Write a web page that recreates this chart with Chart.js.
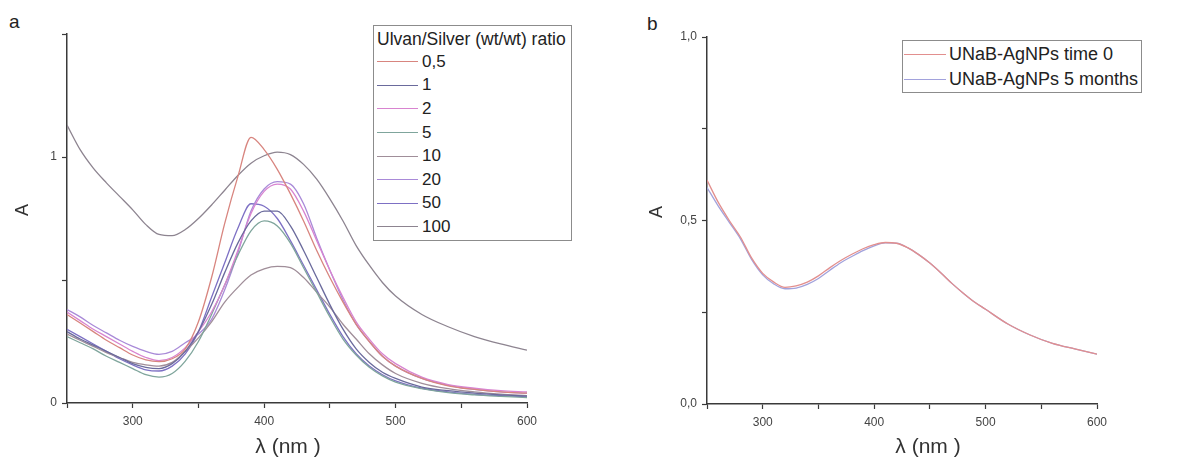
<!DOCTYPE html>
<html lang="en">
<head>
<meta charset="utf-8" />
<title>UV-Vis spectra of Ulvan/silver nanoparticles</title>
<script src="https://cdn.jsdelivr.net/npm/chart.js@4.4.1/dist/chart.umd.min.js"></script>
<style>
    html, body { margin: 0; padding: 0; background: #fff; }
    body { width: 1190px; height: 463px; position: relative; overflow: hidden;
           font-family: "Liberation Sans", Arial, sans-serif; color: #222; }
    canvas { position: absolute; top: 0; }
    #chartA { left: 0; }
    #chartB { left: 600px; }
    .panel-tag { position: absolute; font-size: 19px; line-height: 1; }
    .axis-title { position: absolute; color: #333; line-height: 1; white-space: nowrap;
                  transform: translate(-50%, -50%); }
    .axis-title.x { font-size: 21px; }
    .axis-title.y { font-size: 18px; transform: translate(-50%, -50%) rotate(-90deg); }
    .legend { position: absolute; background: #fff; border: 1.5px solid #8c8c8c; box-sizing: border-box; }
    .legend .head { font-size: 17.5px; line-height: 22px; white-space: nowrap; }
    .legend .row { display: flex; align-items: center; white-space: nowrap; }
    .legend .swatch { display: inline-block; height: 0; border-top: 1.5px solid; }
    #legendA .row { height: 23.6px; font-size: 17px; }
    #legendB .row { height: 25px; font-size: 18px; }
</style>
</head>
<body>
<div class="panel-tag" style="left:9px; top:12px;">a</div>
<div class="panel-tag" style="left:647px; top:14px;">b</div>
<canvas id="chartA" width="600" height="463"></canvas>
<canvas id="chartB" width="590" height="463"></canvas>
<div class="axis-title y" style="left:22px; top:210px;">A</div>
<div class="axis-title x" style="left:288px; top:445px;">λ (nm )</div>
<div class="axis-title y" style="left:656px; top:212px;">A</div>
<div class="axis-title x" style="left:928px; top:445px;">λ (nm )</div>
<div id="legendA" class="legend" style="left:373px; top:25px; width:199px; height:216px; padding:2px 0 0 3px;"></div>
<div id="legendB" class="legend" style="left:902px; top:40px; width:240px; height:53px; padding:1px 0 0 1px;"></div>

<script>
// wavelengths (nm) shared by every spectrum
const wavelengths = [250, 260, 270, 280, 290, 300, 310, 320, 330, 340, 350, 360, 370, 380, 390,
                     400, 410, 420, 430, 440, 450, 460, 470, 480, 490, 500, 520, 540, 560, 580, 600];

// panel a: absorbance for each Ulvan/Silver ratio
const ratioNames = ['0,5', '1', '2', '5', '10', '20', '50', '100'];
const ratio0_5 = [0.36, 0.325, 0.29, 0.255, 0.225, 0.195, 0.175, 0.168, 0.18, 0.22, 0.33, 0.51, 0.73, 0.92, 1.08,
                  1.03, 0.95, 0.85, 0.74, 0.62, 0.51, 0.41, 0.32, 0.25, 0.19, 0.15, 0.10, 0.07, 0.055, 0.045, 0.04];
const ratio1   = [0.29, 0.26, 0.235, 0.21, 0.185, 0.16, 0.145, 0.14, 0.16, 0.21, 0.29, 0.40, 0.53, 0.65, 0.74,
                  0.78, 0.78, 0.72, 0.62, 0.51, 0.40, 0.30, 0.22, 0.165, 0.125, 0.10, 0.065, 0.05, 0.04, 0.033, 0.028];
const ratio2   = [0.37, 0.335, 0.30, 0.27, 0.24, 0.21, 0.185, 0.172, 0.185, 0.225, 0.29, 0.37, 0.48, 0.62, 0.77,
                  0.86, 0.89, 0.87, 0.78, 0.66, 0.54, 0.43, 0.33, 0.26, 0.20, 0.16, 0.105, 0.075, 0.06, 0.05, 0.045];
const ratio5   = [0.27, 0.245, 0.22, 0.19, 0.165, 0.14, 0.115, 0.105, 0.12, 0.17, 0.25, 0.36, 0.48, 0.60, 0.70,
                  0.74, 0.72, 0.65, 0.55, 0.45, 0.35, 0.26, 0.195, 0.145, 0.11, 0.085, 0.058, 0.042, 0.033, 0.027, 0.022];
const ratio10  = [0.28, 0.255, 0.23, 0.205, 0.185, 0.165, 0.155, 0.15, 0.165, 0.21, 0.265, 0.33, 0.41, 0.47, 0.52,
                  0.545, 0.555, 0.55, 0.51, 0.45, 0.39, 0.32, 0.26, 0.20, 0.155, 0.12, 0.08, 0.058, 0.045, 0.036, 0.03];
const ratio20  = [0.38, 0.35, 0.315, 0.285, 0.255, 0.23, 0.21, 0.198, 0.21, 0.245, 0.28, 0.34, 0.46, 0.61, 0.78,
                  0.87, 0.90, 0.89, 0.81, 0.67, 0.54, 0.42, 0.32, 0.25, 0.19, 0.15, 0.10, 0.072, 0.055, 0.045, 0.04];
const ratio50  = [0.30, 0.27, 0.24, 0.21, 0.18, 0.155, 0.135, 0.13, 0.15, 0.20, 0.29, 0.43, 0.57, 0.71, 0.81,
                  0.80, 0.75, 0.66, 0.56, 0.46, 0.36, 0.27, 0.20, 0.15, 0.115, 0.09, 0.06, 0.045, 0.035, 0.03, 0.025];
const ratio100 = [1.13, 1.03, 0.955, 0.895, 0.84, 0.785, 0.725, 0.685, 0.68, 0.705, 0.75, 0.805, 0.865, 0.925, 0.975,
                  1.005, 1.02, 1.01, 0.97, 0.91, 0.83, 0.74, 0.64, 0.56, 0.49, 0.435, 0.36, 0.31, 0.27, 0.24, 0.215];
const ratioSeries = [ratio0_5, ratio1, ratio2, ratio5, ratio10, ratio20, ratio50, ratio100];

// panel b: stability of UNaB-AgNPs
const stabilityNames = ['UNaB-AgNPs time 0', 'UNaB-AgNPs 5 months'];
const time0   = [0.61, 0.55, 0.50, 0.455, 0.398, 0.356, 0.332, 0.318, 0.322, 0.332, 0.349, 0.371, 0.391, 0.408, 0.423,
                 0.434, 0.44, 0.438, 0.426, 0.407, 0.384, 0.357, 0.328, 0.302, 0.278, 0.258, 0.218, 0.188, 0.165, 0.15, 0.136];
const months5 = [0.59, 0.54, 0.495, 0.45, 0.394, 0.352, 0.327, 0.314, 0.316, 0.326, 0.342, 0.364, 0.385, 0.402, 0.418,
                 0.431, 0.439, 0.438, 0.426, 0.407, 0.384, 0.357, 0.328, 0.302, 0.278, 0.258, 0.218, 0.188, 0.165, 0.15, 0.136];
const stabilitySeries = [time0, months5];

// tick labels
const xTickValues = [300, 400, 500, 600];
const yTickValuesA = [0, 1];
const yTickTextA = ['0', '1'];
const yTickValuesB = [0, 0.5, 1];
const yTickTextB = ['0,0', '0,5', '1,0'];

// line colours
const ratioColors = ['#d8857f', '#6a6a9c', '#d884d0', '#7fa59c', '#a08e99', '#a98ad8', '#7d70c4', '#8d8490'];
const stabilityColors = ['#e28f8e', '#a2a2dc'];

Chart.defaults.font.family = '"Liberation Sans", Arial, sans-serif';

const axisColor = '#3a3a3a';

function toPoints(values) {
    return wavelengths.map((w, i) => ({ x: w, y: values[i] }));
}

function makeDatasets(names, series, colors) {
    return names.map((name, i) => ({
        label: name,
        data: toPoints(series[i]),
        borderColor: colors[i],
        borderWidth: 1.3,
        pointRadius: 0,
        fill: false,
        cubicInterpolationMode: 'monotone'
    }));
}

function wavelengthAxis(height) {
    return {
        type: 'linear', min: 250, max: 600,
        afterFit: s => { s.height = height; },
        border: { color: axisColor, width: 1.5 },
        grid: { drawOnChartArea: false, tickLength: 5, tickColor: axisColor, tickWidth: 1.2 },
        ticks: {
            stepSize: 50, autoSkip: false, maxRotation: 0, padding: 6,
            color: '#444', font: { size: 12 },
            callback: v => xTickValues.includes(v) ? String(v) : ''
        }
    };
}

function absorbanceAxis(max, step, width, values, texts) {
    return {
        min: 0, max: max,
        afterFit: s => { s.width = width; },
        border: { color: axisColor, width: 1.5 },
        grid: { drawOnChartArea: false, tickLength: 5, tickColor: axisColor, tickWidth: 1.2 },
        ticks: {
            stepSize: step, autoSkip: false, padding: 5,
            color: '#444', font: { size: 12 },
            callback: v => {
                const k = values.findIndex(t => Math.abs(t - v) < 1e-6);
                return k < 0 ? '' : texts[k];
            }
        }
    };
}

const chartA = new Chart(document.getElementById('chartA'), {
    type: 'line',
    data: { datasets: makeDatasets(ratioNames, ratioSeries, ratioColors) },
    options: {
        responsive: false,
        animation: false,
        layout: { padding: { top: 34, right: 73, left: 0, bottom: 0 } },
        plugins: { legend: { display: false }, tooltip: { enabled: false } },
        scales: {
            x: wavelengthAxis(60),
            y: absorbanceAxis(1.5, 0.5, 67, yTickValuesA, yTickTextA)
        }
    }
});

const chartB = new Chart(document.getElementById('chartB'), {
    type: 'line',
    data: { datasets: makeDatasets(stabilityNames, stabilitySeries, stabilityColors) },
    options: {
        responsive: false,
        animation: false,
        layout: { padding: { top: 37, right: 93, left: 0, bottom: 0 } },
        plugins: { legend: { display: false }, tooltip: { enabled: false } },
        scales: {
            x: wavelengthAxis(59),
            y: absorbanceAxis(1, 0.25, 107, yTickValuesB, yTickTextB)
        }
    }
});

// html legends built from the chart datasets
function buildLegend(chart, el, title, swatchWidth, gap) {
    if (title) {
        const head = document.createElement('div');
        head.className = 'head';
        head.textContent = title;
        el.appendChild(head);
    }
    chart.data.datasets.forEach(ds => {
        const row = document.createElement('div');
        row.className = 'row';
        const sw = document.createElement('span');
        sw.className = 'swatch';
        sw.style.width = swatchWidth + 'px';
        sw.style.marginRight = gap + 'px';
        sw.style.borderTopColor = ds.borderColor;
        const label = document.createElement('span');
        label.textContent = ds.label;
        row.append(sw, label);
        el.appendChild(row);
    });
}

buildLegend(chartA, document.getElementById('legendA'), 'Ulvan/Silver (wt/wt) ratio', 41, 4);
buildLegend(chartB, document.getElementById('legendB'), null, 42, 3);
</script>
</body>
</html>
